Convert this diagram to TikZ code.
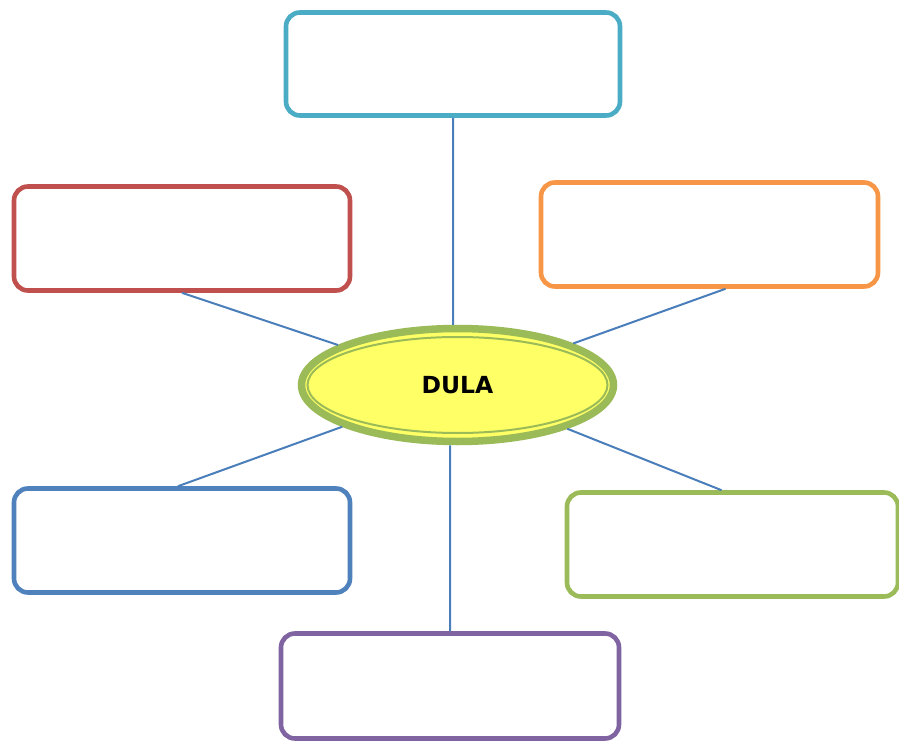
\documentclass[tikz,border=0pt]{standalone}
\usepackage{fontspec}
\usepackage{tikz}
\usetikzlibrary{shapes.geometric}
\newfontfamily\dulafont{DejaVu Sans}

\definecolor{bteal}{HTML}{4BACC6}
\definecolor{bred}{HTML}{C0504D}
\definecolor{borange}{HTML}{F79646}
\definecolor{bblue}{HTML}{4F81BD}
\definecolor{bgreen}{HTML}{9BBB59}
\definecolor{bpurple}{HTML}{8064A2}
\definecolor{linkblue}{HTML}{4A7EBB}
\definecolor{dulayellow}{HTML}{FFFF66}

\tikzset{
  box/.style={draw, rectangle, rounded corners=14pt, line width=4.6pt, fill=white, minimum height=104pt},
  link/.style={draw=linkblue, line width=2pt}
}

\begin{document}
\begin{tikzpicture}[x=1pt,y=-1pt]

\useasboundingbox (0,0) rectangle (899,743);

\node [box, draw=bteal, minimum width=334pt, minimum height=103pt] (top) at (453,64) {};
\node [box, draw=bred, minimum width=336pt] (red) at (182,238.5) {};
\node [box, draw=borange, minimum width=337pt] (orange) at (709.5,234.5) {};
\node [box, draw=bblue, minimum width=336pt] (blue) at (182,540.5) {};
\node [box, draw=bgreen, minimum width=331pt] (green) at (732.5,544.5) {};
\node [box, draw=bpurple, minimum width=338pt, minimum height=105pt] (purple) at (450,686) {};

\node [ellipse, draw=bgreen, line width=7.5pt, fill=dulayellow, minimum width=312pt, minimum height=113pt] (dula) at (457.5,385) {};
\draw [bgreen, line width=2pt] (dula.center) ellipse (150 and 48);
\node at (dula.center) {\dulafont\bfseries\fontsize{23.5}{27}\selectfont DULA};

\path [link]
(top.south) -- (top.south |- dula.north)
(purple.north) -- (purple.north |- dula.south)
(red.south) -- (dula)
([xshift=16pt]orange.south) -- (dula)
([xshift=-4pt]blue.north) -- (dula)
([xshift=-11pt]green.north) -- (dula);

\end{tikzpicture}
\end{document}
